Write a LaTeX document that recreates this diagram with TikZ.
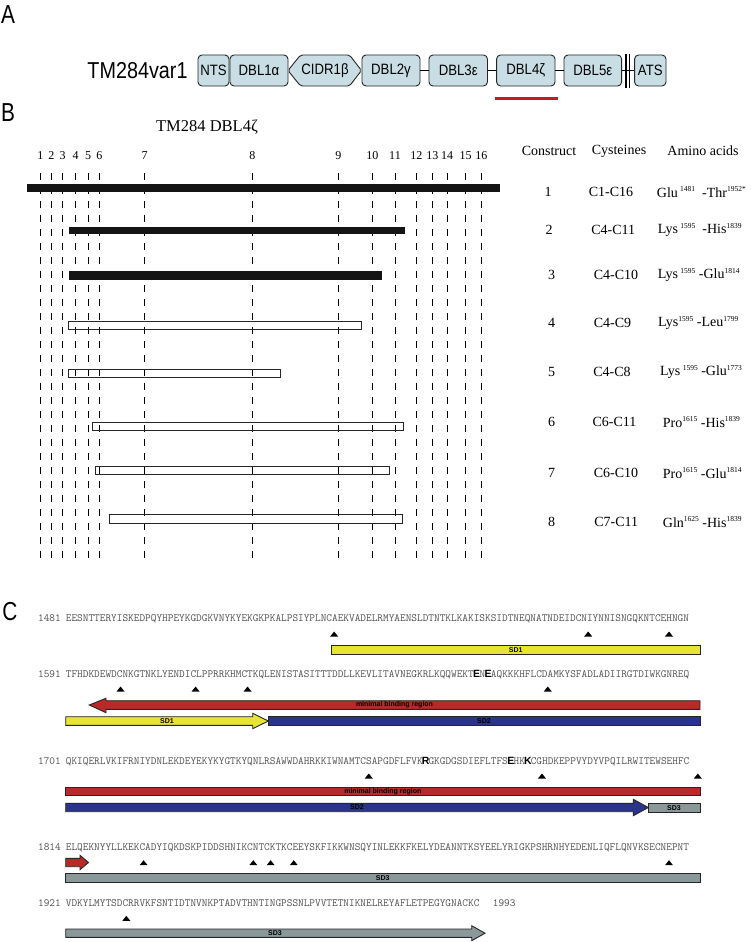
\documentclass[tikz,border=0pt]{standalone}
\usepackage{fontspec}
\usepackage{graphicx}
\setmainfont{Liberation Serif}
\newfontfamily\asans{Liberation Sans}
\newcommand{\cnd}[1]{\scalebox{0.88}[1]{#1}}
\newcommand{\spx}[1]{\raisebox{5.5pt}{\fontsize{7.5}{8}\selectfont #1}}
\newlength{\cw}\setlength{\cw}{5.773pt}
\newcommand{\bres}[1]{\makebox[\cw]{\asans\fontsize{10.5}{11}\selectfont\bfseries\color{black}#1}}
\definecolor{domfill}{RGB}{200,222,228}
\definecolor{sdyellow}{RGB}{232,228,52}
\definecolor{sdred}{RGB}{184,42,40}
\definecolor{sdblue}{RGB}{42,52,140}
\definecolor{sdgray}{RGB}{138,152,154}
\definecolor{seqgray}{RGB}{80,80,80}
\definecolor{ulred}{RGB}{192,30,36}
\newcommand{\cys}[2]{\fill ({65.7+(#1-0.5)*5.773-4},{#2+2.5}) -- ++(8,0) -- ++(-4,-5) -- cycle;}
\begin{document}
\begin{tikzpicture}[x=1pt,y=-1pt,
  dom/.style={draw=black!85, fill=domfill, line width=0.9pt, rounded corners=4pt, minimum height=31pt, inner sep=0pt, font=\asans\fontsize{15}{16}\selectfont},
  link/.style={draw=black, line width=1pt},
  plab/.style={font=\asans\fontsize{26}{28}\selectfont, inner sep=0},
  num/.style={font=\fontsize{12}{13}\selectfont, inner sep=0},
  cysline/.style={draw=black, line width=0.9pt, dash pattern=on 7pt off 7pt},
  solidbar/.style={fill=black!92},
  openbar/.style={draw=black!85, line width=0.9pt},
  tab/.style={font=\fontsize{14}{16}\selectfont, inner sep=0},
  seq/.style={font=\ttfamily\fontsize{11}{12}\selectfont, text=seqgray, inner sep=0, anchor=base west},
  seqnum/.style={font=\ttfamily\fontsize{11}{12}\selectfont, text=seqgray, inner sep=0, anchor=base east},
  sd/.style={draw=black!85, line width=0.9pt},
  sdlab/.style={font=\asans\bfseries\fontsize{7}{8}\selectfont, inner sep=0, text=black},
]
\fill[white] (0,0) rectangle (750,942);
\useasboundingbox (0,0) rectangle (750,942);

% ---------- Panel A ----------
\node[plab] (la) at (8,15) {\scalebox{0.8}[1]{A}};
\node[font=\asans\fontsize{23}{25}\selectfont, inner sep=0] (tmv) at (137.5,71) {\scalebox{0.86}[1]{TM284var1}};
\node[dom, minimum width=31pt] (nts) at (213.5,70.5) {\cnd{NTS}};
\node[dom, minimum width=58pt] (dbla) at (259,70.5) {\cnd{DBL1α}};
\draw[draw=black!85, fill=domfill, line width=0.9pt, rounded corners=2pt] (288,70.5) -- (300.5,55) -- (349.5,55) -- (361.5,70.5) -- (349.5,86) -- (300.5,86) -- cycle;
\node[font=\asans\fontsize{15}{16}\selectfont, inner sep=0] (cidr) at (325,70.5) {\cnd{CIDR1β}};
\node[dom, minimum width=58pt] (dblb) at (391,70.5) {\cnd{DBL2γ}};
\node[dom, minimum width=58.5pt] (dblc) at (458.2,70.5) {\cnd{DBL3ε}};
\node[dom, minimum width=58.4pt] (dbld) at (525.8,70.5) {\cnd{DBL4ζ}};
\node[dom, minimum width=57.6pt] (dble) at (592.8,70.5) {\cnd{DBL5ε}};
\node[dom, minimum width=31.4pt] (ats) at (650.3,70.5) {\cnd{ATS}};
\draw[link] (dblb.east) -- (dblc.west);
\draw[link] (dblc.east) -- (dbld.west);
\draw[link] (dbld.east) -- (dble.west);
\draw[link] (dble.east) -- (ats.west);
\draw[line width=1.3pt] (626,54) -- (626,88);
\draw[line width=1.3pt] (629.8,54) -- (629.8,88);
\draw[ulred, line width=3.5pt] (495,98.6) -- (557.5,98.6);

% ---------- Panel B ----------
\node[plab] (lb) at (8,113) {\scalebox{0.8}[1]{B}};
\node[font=\fontsize{16.5}{18}\selectfont, inner sep=0] (btitle) at (207,127) {TM284 DBL4ζ};
\foreach \x/\n in {40.3/1,51.3/2,62.7/3,75.7/4,88/5,99.3/6,144.7/7,252.3/8,338.3/9,372.3/10,395/11,416.3/12,432.3/13,447/14,465.7/15,481.3/16} {
  \node[num] (n\n) at (\x,156) {\n};
  \draw[cysline] (\x,173) -- (\x,562);
}
\fill[solidbar] (26.7,184) rectangle (500,192.3);
\fill[solidbar] (68.7,226.7) rectangle (405,234);
\fill[solidbar] (68.7,271) rectangle (381.7,280);
\draw[openbar] (68.3,321.7) rectangle (361.7,329.7);
\draw[openbar] (68.3,369.7) rectangle (280.7,377.7);
\draw[openbar] (92.3,422.7) rectangle (403.3,430.3);
\draw[openbar] (95.3,466.3) rectangle (389.3,474.3);
\draw[openbar] (109.7,514.3) rectangle (402.7,523.3);

\node[tab] (hcon) at (549,151) {Construct};
\node[tab] (hcys) at (619,151) {Cysteines};
\node[tab] (haa) at (703,151) {Amino acids};

\node[tab] (r1a) at (548,192) {1};
\node[tab] (r1b) at (611,192) {C1-C16};
\node[tab, anchor=west] (r1c) at (656.7,192) {Glu\,\spx{1481}\ \ -Thr\spx{1952*}};
\node[tab] (r2a) at (549,230) {2};
\node[tab] (r2b) at (613.3,230) {C4-C11};
\node[tab, anchor=west] (r2c) at (657.7,230) {Lys\,\spx{1595}\ \ -His\spx{1839}};
\node[tab] (r3a) at (551.7,275) {3};
\node[tab] (r3b) at (616,275) {C4-C10};
\node[tab, anchor=west] (r3c) at (657.7,275) {Lys\,\spx{1595}\ -Glu\spx{1814}};
\node[tab] (r4a) at (551.7,323) {4};
\node[tab] (r4b) at (612.5,323) {C4-C9};
\node[tab, anchor=west] (r4c) at (658,323) {Lys\spx{1595}\ -Leu\spx{1799}};
\node[tab] (r5a) at (551.7,372) {5};
\node[tab] (r5b) at (612,372) {C4-C8};
\node[tab, anchor=west] (r5c) at (660,372) {Lys\,\spx{1595}\ -Glu\spx{1773}};
\node[tab] (r6a) at (551.7,422) {6};
\node[tab] (r6b) at (614.5,422) {C6-C11};
\node[tab, anchor=west] (r6c) at (662.7,422) {Pro\spx{1615}\ -His\spx{1839}};
\node[tab] (r7a) at (551.7,473) {7};
\node[tab] (r7b) at (616,473) {C6-C10};
\node[tab, anchor=west] (r7c) at (662.7,473) {Pro\spx{1615}\ -Glu\spx{1814}};
\node[tab] (r8a) at (551.7,522) {8};
\node[tab] (r8b) at (616.3,522) {C7-C11};
\node[tab, anchor=west] (r8c) at (662.7,522) {Gln\spx{1625}\ -His\spx{1839}};

% ---------- Panel C ----------
\node[plab] (lc) at (10,612) {\scalebox{0.8}[1]{C}};

% line 1
\node[seqnum] (q1n) at (61,621.3) {1481};
\node[seq] (q1) at (65.7,621.3) {EESNTTERYISKEDPQYHPEYKGDGKVNYKYEKGKPKALPSIYPLNCAEKVADELRMYAENSLDTNTKLKAKISKSIDTNEQNATNDEIDCNIYNNISNGQKNTCEHNGN};
\foreach \i in {47,91,105} {\cys{\i}{634}}
\filldraw[sd, fill=sdyellow] (331.7,645.7) rectangle (700,654.3);
\node[sdlab] (sd1a) at (515.8,650) {SD1};

% line 2
\node[seqnum] (q2n) at (61,677.3) {1591};
\node[seq] (q2) at (65.7,677.3) {TFHDKDEWDCNKGTNKLYENDICLPPRRKHMCTKQLENISTASITTTDDLLKEVLITAVNEGKRLKQQWEKT\bres{E}N\bres{E}AQKKKHFLCDAMKYSFADLADIIRGTDIWKGNREQ};
\foreach \i in {10,23,32,84} {\cys{\i}{689}}
\filldraw[sd, fill=sdred] (89.3,705) -- (106,698.3) -- (106,700.7) -- (700,700.7) -- (700,709.3) -- (106,709.3) -- (106,712.7) -- cycle;
\node[sdlab] (mbr1) at (394.5,705) {minimal binding region};
\filldraw[sd, fill=sdyellow] (65.7,716.7) -- (252.7,716.7) -- (252.7,713.3) -- (268.3,721) -- (252.7,728.7) -- (252.7,725.3) -- (65.7,725.3) -- cycle;
\node[sdlab] (sd1b) at (167,721) {SD1};
\filldraw[sd, fill=sdblue] (268.3,716.7) rectangle (700,725.3);
\node[sdlab] (sd2a) at (484,721) {SD2};

% line 3
\node[seqnum] (q3n) at (61,764.8) {1701};
\node[seq] (q3) at (65.7,764.8) {QKIQERLVKIFRNIYDNLEKDEYEKYKYGTKYQNLRSAWWDAHRKKIWNAMTCSAPGDFLFVK\bres{R}GKGDGSDIEFLTFS\bres{E}HK\bres{K}CGHDKEPPVYDYVPQILRWITEWSEHFC};
\foreach \i in {53,83,110} {\cys{\i}{776}}
\filldraw[sd, fill=sdred] (65.7,787.3) rectangle (700,795.7);
\node[sdlab] (mbr2) at (382.8,791.5) {minimal binding region};
\filldraw[sd, fill=sdblue] (65.7,803.3) -- (633.3,803.3) -- (633.3,799.3) -- (648.3,807.5) -- (633.3,815.7) -- (633.3,811.7) -- (65.7,811.7) -- cycle;
\node[sdlab] (sd2b) at (357,807.5) {SD2};
\filldraw[sd, fill=sdgray] (648.3,803.3) rectangle (700,812);
\node[sdlab] (sd3a) at (674,807.6) {SD3};

% line 4
\node[seqnum] (q4n) at (61,850.8) {1814};
\node[seq] (q4) at (65.7,850.8) {ELQEKNYYLLKEKCADYIQKDSKPIDDSHNIKCNTCKTKCEEYSKFIKKWNSQYINLEKKFKELYDEANNTKSYEELYRIGKPSHRNHYEDENLIQFLQNVKSECNEPNT};
\foreach \i in {14,33,36,40,105} {\cys{\i}{862.7}}
\filldraw[sd, fill=sdred] (65.7,858.3) -- (80,858.3) -- (80,855.3) -- (88.5,862.5) -- (80,869.7) -- (80,866.7) -- (65.7,866.7) -- cycle;
\filldraw[sd, fill=sdgray] (65.7,873.3) rectangle (700,882);
\node[sdlab] (sd3b) at (382.8,877.7) {SD3};

% line 5
\node[seqnum] (q5n) at (61,906.6) {1921};
\node[seq] (q5) at (65.7,906.6) {VDKYLMYTSDCRRVKFSNTIDTNVNKPTADVTHNTINGPSSNLPVVTETNIKNELREYAFLETPEGYGNACKC};
\node[seq] (q5e) at (492.7,906.6) {1993};
\foreach \i in {11} {\cys{\i}{918.3}}
\filldraw[sd, fill=sdgray] (65.7,929) -- (471.7,929) -- (471.7,925.7) -- (485,933.2) -- (471.7,940.7) -- (471.7,937.3) -- (65.7,937.3) -- cycle;
\node[sdlab] (sd3c) at (275,933.2) {SD3};
\end{tikzpicture}
\end{document}
